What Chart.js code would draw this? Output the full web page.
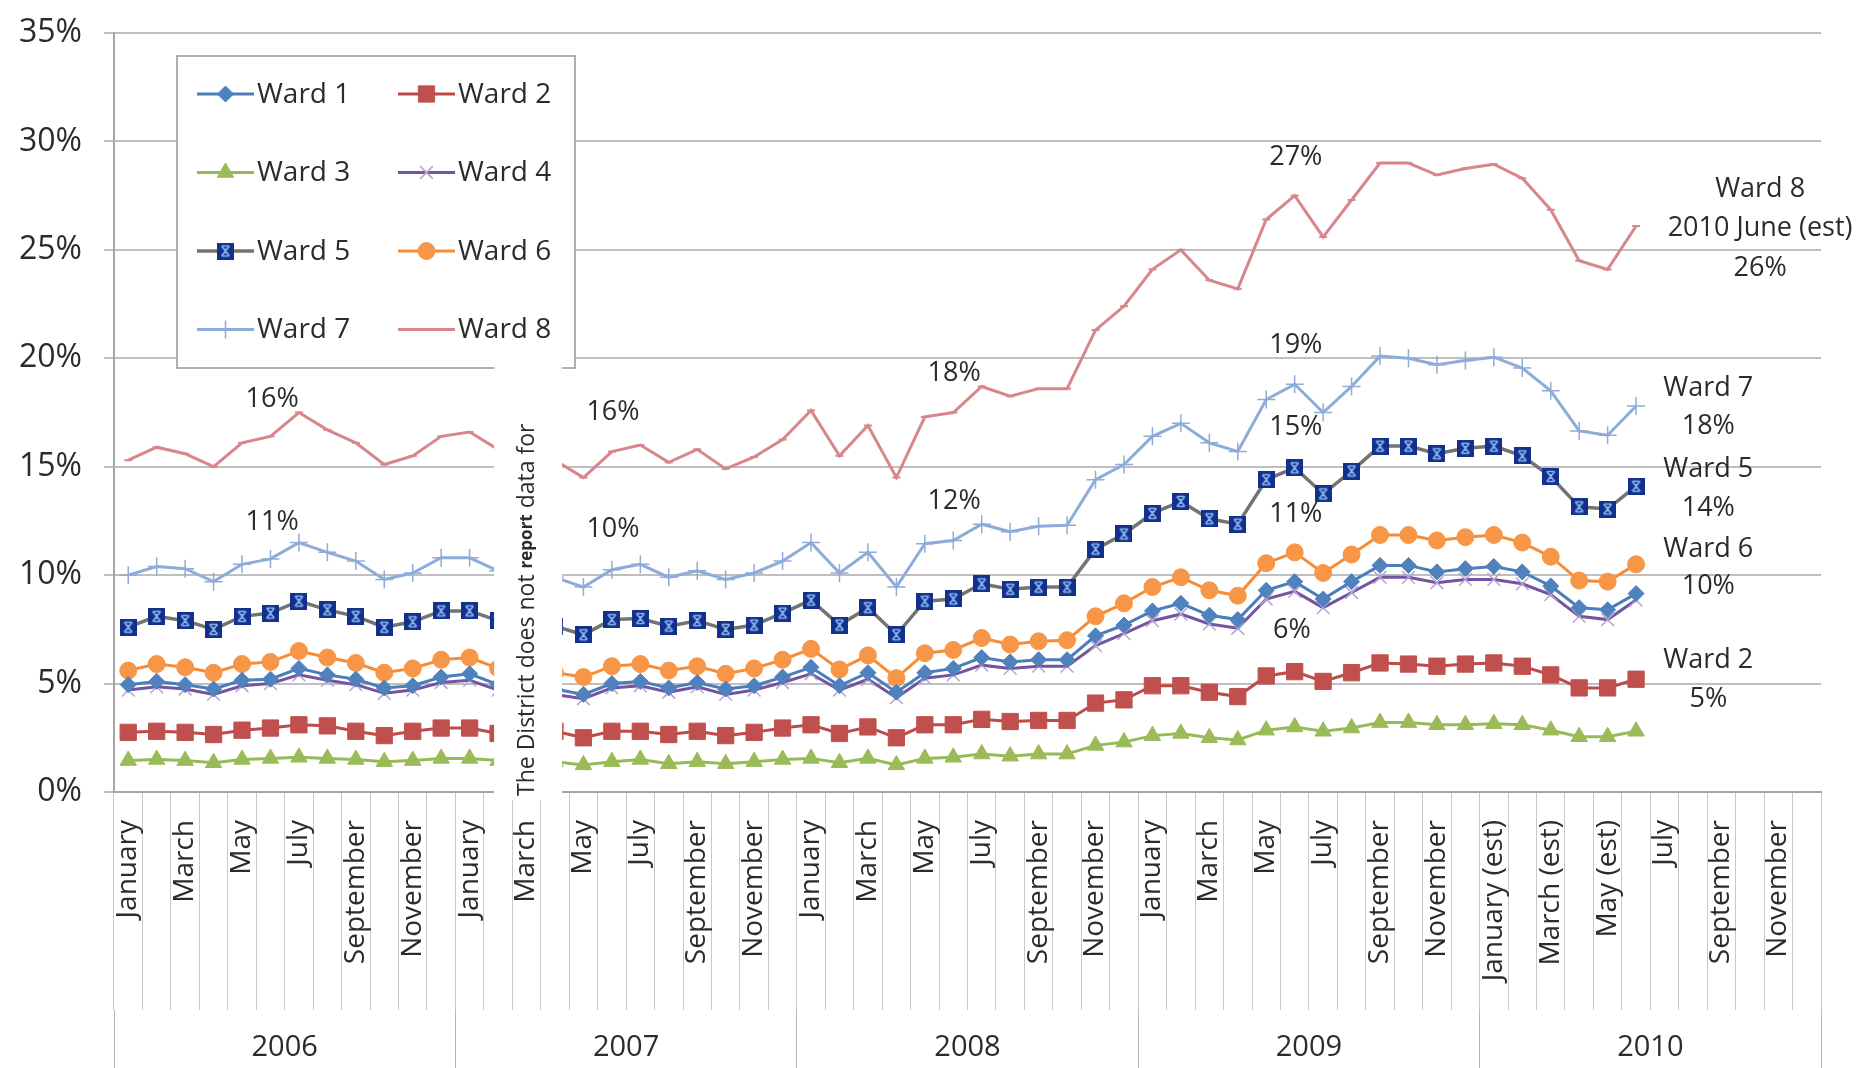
<!DOCTYPE html>
<html>
<head>
<meta charset="utf-8">
<script src="https://cdn.jsdelivr.net/npm/chart.js@4.4.0/dist/chart.umd.min.js"></script>
<style>
    html, body { margin: 0; padding: 0; background: #fff; }
    #wrap { width: 1876px; height: 1068px; position: relative; }
</style>
</head>
<body>
<div id="wrap"><canvas id="chartWards"></canvas></div>
<script>
const FONT = "'Open Sans', sans-serif"
const TEXT = '#2b2b2b'

const months = [
    'January', 'February', 'March', 'April', 'May', 'June', 'July', 'August', 'September', 'October', 'November', 'December',
    'January', 'February', 'March', 'April', 'May', 'June', 'July', 'August', 'September', 'October', 'November', 'December',
    'January', 'February', 'March', 'April', 'May', 'June', 'July', 'August', 'September', 'October', 'November', 'December',
    'January', 'February', 'March', 'April', 'May', 'June', 'July', 'August', 'September', 'October', 'November', 'December',
    'January (est)', 'February (est)', 'March (est)', 'April (est)', 'May (est)', 'June (est)', 'July', 'August', 'September', 'October', 'November', 'December'
]
const years = ['2006', '2007', '2008', '2009', '2010']

// unemployment rate by ward, % (no data for March 2007, none after June 2010)
const ward1 = [
    4.95, 5.1, 4.95, 4.75, 5.15, 5.2, 5.7, 5.4, 5.2, 4.8, 4.9, 5.3,
    5.45, 4.95, null, 4.75, 4.5, 5.0, 5.1, 4.8, 5.05, 4.75, 4.9, 5.3,
    5.75, 4.9, 5.5, 4.6, 5.5, 5.7, 6.2, 6.0, 6.1, 6.1, 7.2, 7.7,
    8.35, 8.7, 8.15, 7.95, 9.3, 9.7, 8.9, 9.7, 10.45, 10.45, 10.15, 10.3,
    10.4, 10.15, 9.5, 8.5, 8.4, 9.15, null, null, null, null, null, null
]
const ward2 = [
    2.75, 2.8, 2.75, 2.65, 2.85, 2.95, 3.1, 3.05, 2.8, 2.6, 2.8, 2.95,
    2.95, 2.7, null, 2.8, 2.5, 2.8, 2.8, 2.65, 2.8, 2.6, 2.75, 2.95,
    3.1, 2.7, 3.0, 2.5, 3.1, 3.1, 3.35, 3.25, 3.3, 3.3, 4.1, 4.25,
    4.9, 4.9, 4.6, 4.4, 5.35, 5.55, 5.1, 5.5, 5.95, 5.9, 5.8, 5.9,
    5.95, 5.8, 5.4, 4.8, 4.8, 5.2, null, null, null, null, null, null
]
const ward3 = [
    1.45, 1.5, 1.45, 1.35, 1.5, 1.55, 1.6, 1.55, 1.5, 1.4, 1.45, 1.55,
    1.55, 1.45, null, 1.4, 1.25, 1.4, 1.5, 1.3, 1.4, 1.3, 1.4, 1.5,
    1.55, 1.35, 1.55, 1.25, 1.55, 1.6, 1.75, 1.65, 1.75, 1.75, 2.15, 2.3,
    2.6, 2.7, 2.5, 2.4, 2.85, 3.0, 2.8, 2.95, 3.2, 3.2, 3.1, 3.1,
    3.15, 3.1, 2.85, 2.55, 2.55, 2.8, null, null, null, null, null, null
]
const ward4 = [
    4.7, 4.85, 4.75, 4.5, 4.9, 5.0, 5.4, 5.15, 4.95, 4.55, 4.7, 5.05,
    5.15, 4.7, null, 4.5, 4.3, 4.8, 4.9, 4.6, 4.85, 4.5, 4.7, 5.05,
    5.45, 4.7, 5.2, 4.35, 5.25, 5.4, 5.85, 5.7, 5.8, 5.8, 6.75, 7.3,
    7.9, 8.2, 7.75, 7.55, 8.9, 9.25, 8.5, 9.2, 9.9, 9.9, 9.65, 9.8,
    9.8, 9.6, 9.1, 8.1, 7.95, 8.85, null, null, null, null, null, null
]
const ward5 = [
    7.6, 8.1, 7.9, 7.5, 8.1, 8.25, 8.8, 8.4, 8.1, 7.6, 7.85, 8.35,
    8.35, 7.9, null, 7.65, 7.25, 7.95, 8.0, 7.65, 7.9, 7.5, 7.7, 8.25,
    8.85, 7.7, 8.5, 7.25, 8.8, 8.9, 9.6, 9.35, 9.45, 9.45, 11.2, 11.9,
    12.85, 13.4, 12.6, 12.35, 14.4, 14.95, 13.75, 14.8, 15.95, 15.95, 15.6, 15.85,
    15.95, 15.5, 14.55, 13.15, 13.05, 14.1, null, null, null, null, null, null
]
const ward6 = [
    5.6, 5.9, 5.75, 5.5, 5.9, 6.0, 6.5, 6.2, 5.95, 5.5, 5.7, 6.1,
    6.2, 5.7, null, 5.5, 5.3, 5.8, 5.9, 5.6, 5.8, 5.45, 5.7, 6.1,
    6.6, 5.65, 6.3, 5.25, 6.4, 6.55, 7.1, 6.8, 6.95, 7.0, 8.1, 8.7,
    9.45, 9.9, 9.3, 9.05, 10.55, 11.05, 10.1, 10.95, 11.85, 11.85, 11.6, 11.75,
    11.85, 11.5, 10.85, 9.75, 9.7, 10.5, null, null, null, null, null, null
]
const ward7 = [
    10.0, 10.4, 10.3, 9.7, 10.5, 10.75, 11.5, 11.05, 10.65, 9.8, 10.1, 10.8,
    10.8, 10.2, null, 9.9, 9.45, 10.25, 10.5, 9.9, 10.2, 9.8, 10.1, 10.65,
    11.5, 10.1, 11.05, 9.45, 11.45, 11.6, 12.35, 12.0, 12.25, 12.3, 14.4, 15.1,
    16.4, 17.0, 16.1, 15.7, 18.1, 18.8, 17.5, 18.7, 20.1, 20.0, 19.7, 19.9,
    20.05, 19.55, 18.5, 16.65, 16.45, 17.8, null, null, null, null, null, null
]
const ward8 = [
    15.3, 15.9, 15.6, 15.0, 16.1, 16.4, 17.5, 16.7, 16.1, 15.1, 15.5, 16.4,
    16.6, 15.8, null, 15.3, 14.5, 15.7, 16.0, 15.2, 15.8, 14.9, 15.45, 16.25,
    17.6, 15.5, 16.9, 14.5, 17.3, 17.5, 18.7, 18.25, 18.6, 18.6, 21.3, 22.4,
    24.1, 25.0, 23.6, 23.2, 26.4, 27.5, 25.6, 27.3, 29.0, 29.0, 28.45, 28.75,
    28.95, 28.3, 26.85, 24.5, 24.1, 26.1, null, null, null, null, null, null
]

// text notes on the plot: [text, month index, value]
const notes = [
    ['16%', 5.06, 18.1], ['11%', 5.06, 12.45],
    ['16%', 17.04, 17.5], ['10%', 17.04, 12.1],
    ['18%', 29.03, 19.3], ['12%', 29.03, 13.4],
    ['27%', 41.04, 29.25], ['19%', 41.04, 20.6], ['15%', 41.04, 16.8], ['11%', 41.04, 12.8], ['6%', 40.9, 7.45],
    ['Ward 8', 57.36, 27.77], ['2010 June (est)', 57.36, 26.0], ['26%', 57.36, 24.17],
    ['Ward 7', 55.54, 18.63], ['18%', 55.54, 16.88],
    ['Ward 5', 55.54, 14.9], ['14%', 55.54, 13.1],
    ['Ward 6', 55.54, 11.2], ['10%', 55.54, 9.5],
    ['Ward 2', 55.54, 6.09], ['5%', 55.54, 4.29]
]

function ward5Marker() {
    const c = document.createElement('canvas')
    c.width = 17
    c.height = 17
    const g = c.getContext('2d')
    g.fillStyle = '#12308c'
    g.fillRect(0, 0, 17, 17)
    g.strokeStyle = '#86b4ec'
    g.lineWidth = 1.6
    g.beginPath()
    g.moveTo(4.5, 3.5); g.lineTo(12.5, 13.5)
    g.moveTo(12.5, 3.5); g.lineTo(4.5, 13.5)
    g.moveTo(5, 3.5); g.lineTo(12, 3.5)
    g.moveTo(5, 13.5); g.lineTo(12, 13.5)
    g.moveTo(8.5, 6); g.lineTo(8.5, 11)
    g.stroke()
    return c
}

function series(label, data, line, marker, style, radius, extra) {
    return Object.assign({
        label: label,
        data: data,
        borderColor: line,
        borderWidth: 3,
        pointStyle: style,
        pointRadius: radius,
        pointBackgroundColor: marker,
        pointBorderColor: marker,
        pointBorderWidth: 1,
        tension: 0,
        spanGaps: false
    }, extra || {})
}

const datasets = [
    series('Ward 1', ward1, '#4a7ebb', '#4f81bd', 'rectRot', 8),
    series('Ward 2', ward2, '#be4b48', '#c0504d', 'rect', 11.5),
    series('Ward 3', ward3, '#98b954', '#9bbb59', 'triangle', 9.5),
    series('Ward 4', ward4, '#7254a0', '#b4a4d6', 'crossRot', 9, { pointBorderWidth: 1.5 }),
    series('Ward 5', ward5, '#737373', '#12308c', ward5Marker(), 9, { borderWidth: 3.5 }),
    series('Ward 6', ward6, '#f68c36', '#f79646', 'circle', 8.5),
    series('Ward 7', ward7, '#8eacd9', '#8eacd9', 'cross', 9, { pointBorderWidth: 1.5 }),
    series('Ward 8', ward8, '#d7878b', '#d7878b', 'line', 4, { pointBorderWidth: 2 })
]

function drawMarker(ctx, ds, x, y) {
    ctx.save()
    ctx.fillStyle = ds.pointBackgroundColor
    ctx.strokeStyle = ds.pointBorderColor
    ctx.lineWidth = ds.pointBorderWidth
    Chart.helpers.drawPoint(ctx, {
        pointStyle: ds.pointStyle,
        radius: ds.pointRadius,
        borderWidth: ds.pointBorderWidth,
        rotation: 0
    }, x, y)
    ctx.restore()
}

const overlay = {
    id: 'overlay',
    afterDatasetsDraw(chart) {
        const ctx = chart.ctx
        const xs = chart.scales.x
        const ys = chart.scales.y
        const area = chart.chartArea

        // notes
        ctx.save()
        ctx.fillStyle = TEXT
        ctx.font = '27px ' + FONT
        ctx.textAlign = 'center'
        ctx.textBaseline = 'middle'
        notes.forEach(n => {
            ctx.fillText(n[0], xs.getPixelForValue(n[1]), ys.getPixelForValue(n[2]))
        })
        ctx.restore()

        // legend box, two columns
        ctx.save()
        ctx.fillStyle = '#fff'
        ctx.fillRect(177, 56, 398, 312)
        ctx.strokeStyle = '#b0b0b0'
        ctx.lineWidth = 2
        ctx.strokeRect(177, 56, 398, 312)
        chart.data.datasets.forEach((ds, i) => {
            const x0 = 197 + (i % 2) * 201
            const y = 94 + Math.floor(i / 2) * 78.5
            ctx.strokeStyle = ds.borderColor
            ctx.lineWidth = ds.borderWidth
            ctx.beginPath()
            ctx.moveTo(x0, y)
            ctx.lineTo(x0 + 57, y)
            ctx.stroke()
            drawMarker(ctx, ds, x0 + 28.5, y)
            ctx.fillStyle = TEXT
            ctx.font = '28px ' + FONT
            ctx.textAlign = 'left'
            ctx.textBaseline = 'middle'
            ctx.fillText(ds.label, x0 + 60, y + 1)
        })
        ctx.restore()

        // blank strip where March 2007 is missing
        const left = xs.getPixelForValue(12.86)
        const right = xs.getPixelForValue(15.25)
        ctx.save()
        ctx.fillStyle = '#fff'
        ctx.fillRect(left, 356, right - left, area.bottom + 8 - 356)
        ctx.translate((left + right) / 2 - 1, area.bottom + 4)
        ctx.rotate(-Math.PI / 2)
        ctx.fillStyle = TEXT
        ctx.textAlign = 'left'
        ctx.textBaseline = 'middle'
        let tx = 0
        const parts = [['The District does not ', '23px '], ['report', 'bold 17px '], [' data for', '23px ']]
        parts.forEach(p => {
            ctx.font = p[1] + FONT
            ctx.fillText(p[0], tx, 0)
            tx += ctx.measureText(p[0]).width
        })
        ctx.restore()
    }
}

new Chart(document.getElementById('chartWards'), {
    type: 'line',
    data: {
        labels: months,
        datasets: datasets
    },
    options: {
        responsive: true,
        maintainAspectRatio: false,
        animation: false,
        layout: {
            padding: { top: 33, right: 55, bottom: 0, left: 0 }
        },
        plugins: {
            legend: { display: false },
            tooltip: { enabled: false }
        },
        scales: {
            y: {
                min: 0,
                max: 35,
                afterFit: s => {
                    s.width = 114
                    s.paddingTop = 8
                    s.paddingBottom = 8
                },
                ticks: {
                    stepSize: 5,
                    callback: v => v + '%',
                    color: TEXT,
                    font: { family: FONT, size: 32 },
                    padding: 22
                },
                grid: { color: '#bfbfbf', lineWidth: 2, tickLength: 10 },
                border: { color: '#a6a6a6', width: 2 }
            },
            x: {
                offset: true,
                weight: 0,
                afterFit: s => { s.height = 218 },
                ticks: {
                    autoSkip: false,
                    maxRotation: 90,
                    minRotation: 90,
                    padding: -190,
                    color: TEXT,
                    font: { family: FONT, size: 28 },
                    callback: function(v, i) { return i % 2 === 0 ? this.getLabelForValue(v) : '' }
                },
                grid: { offset: true, drawOnChartArea: false, tickLength: 218, color: '#c8c8c8', lineWidth: 1 },
                border: { display: true, color: '#a6a6a6', width: 2 }
            },
            years: {
                type: 'category',
                labels: years,
                position: 'bottom',
                offset: true,
                weight: 1,
                afterFit: s => { s.height = 58 },
                ticks: {
                    padding: -38,
                    color: TEXT,
                    font: { family: FONT, size: 29 }
                },
                grid: { offset: true, drawOnChartArea: false, tickLength: 58, color: '#b4b4b4', lineWidth: 1 },
                border: { display: false }
            }
        }
    },
    plugins: [overlay]
})
</script>
</body>
</html>
